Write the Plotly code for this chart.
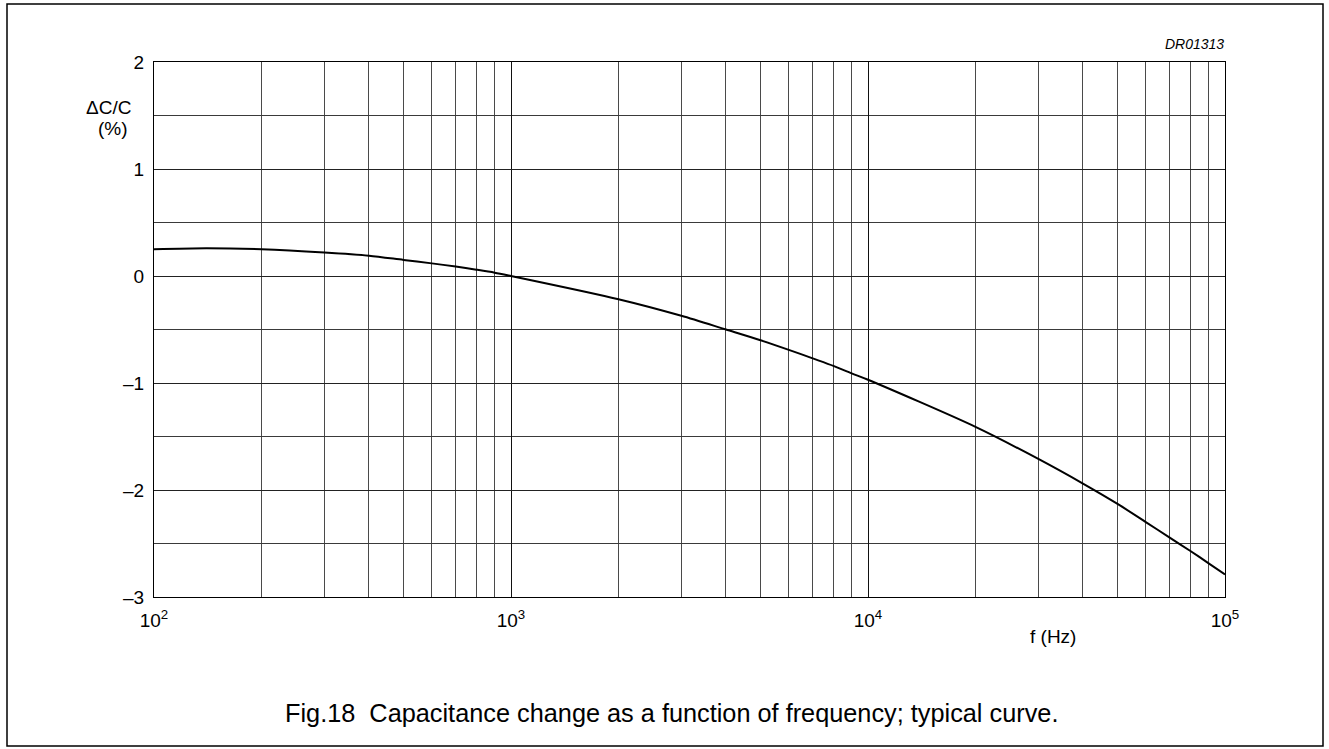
import plotly.graph_objects as go

# ---- data ----
freq_hz = [100, 140, 200, 300, 400, 500, 600, 700, 800, 900, 1000,
           2000, 3000, 4000, 5000, 6000, 7000, 8000, 9000, 10000,
           20000, 30000, 40000, 50000, 60000, 70000, 80000, 90000, 100000]
delta_c_pct = [0.25, 0.26, 0.25, 0.22, 0.19, 0.15, 0.118, 0.088, 0.059, 0.031, 0.0,
               -0.217, -0.372, -0.50, -0.60, -0.69, -0.77, -0.84, -0.91, -0.97,
               -1.41, -1.71, -1.94, -2.13, -2.30, -2.445, -2.57, -2.685, -2.79]

x_major_vals = [1e2, 1e3, 1e4, 1e5]
x_major_text = ["10<sup>2</sup>", "10<sup>3</sup>", "10<sup>4</sup>", "10<sup>5</sup>"]
x_minor_vals = [m * d for d in (100, 1000, 10000) for m in range(2, 10)]
y_major_vals = [-3, -2, -1, 0, 1, 2]
y_major_text = ["\u20133", "\u20132", "\u20131", "0", "1", "2"]

FONT = "Liberation Sans, Arial, Helvetica, sans-serif"

fig = go.Figure()
fig.add_trace(go.Scatter(
    x=freq_hz, y=delta_c_pct, mode="lines",
    line=dict(color="black", width=2, shape="spline", smoothing=0.8),
    showlegend=False, hoverinfo="skip",
))

# plot area in pixels: left 154, right 1225, top 62, bottom 597
L, R, T, B = 154, 1225, 62, 597
W, H = 1329, 749

def px(xp):
    return (xp - L) / (R - L)

def py(yp):
    return (B - yp) / (B - T)

fig.update_layout(
    width=W, height=H, autosize=False,
    margin=dict(l=L, r=W - R, t=T, b=H - B, pad=0),
    paper_bgcolor="white", plot_bgcolor="white",
    font=dict(family=FONT, size=19, color="black"),
    xaxis=dict(
        type="log", range=[2, 5],
        tickvals=x_major_vals, ticktext=x_major_text,
        showgrid=True, gridcolor="#111", gridwidth=1,
        minor=dict(tickvals=x_minor_vals, showgrid=True, gridcolor="#4a4a4a", gridwidth=1, ticks=""),
        ticks="", ticklabelstandoff=6,
        showline=True, mirror=True, linecolor="black", linewidth=1,
        zeroline=False, tickfont=dict(size=19),
    ),
    yaxis=dict(
        range=[-3, 2],
        tickvals=y_major_vals, ticktext=y_major_text,
        showgrid=True, gridcolor="#222", gridwidth=1,
        minor=dict(dtick=0.5, showgrid=True, gridcolor="#3a3a3a", gridwidth=1, ticks=""),
        ticks="", ticklabelstandoff=5,
        showline=True, mirror=True, linecolor="black", linewidth=1,
        zeroline=False, tickfont=dict(size=19),
    ),
    annotations=[
        dict(text="\u0394C/C", x=px(108), y=py(107), xref="paper", yref="paper",
             xanchor="center", yanchor="middle", showarrow=False, font=dict(size=19)),
        dict(text="(%)", x=px(113), y=py(128), xref="paper", yref="paper",
             xanchor="center", yanchor="middle", showarrow=False, font=dict(size=19)),
        dict(text="f (Hz)", x=px(1053), y=py(636), xref="paper", yref="paper",
             xanchor="center", yanchor="middle", showarrow=False, font=dict(size=19)),
        dict(text="<i>DR01313</i>", x=px(1226), y=py(44), xref="paper", yref="paper",
             xanchor="right", yanchor="middle", showarrow=False, font=dict(size=14)),
        dict(text="Fig.18  Capacitance change as a function of frequency; typical curve.",
             x=px(671), y=py(713), xref="paper", yref="paper",
             xanchor="center", yanchor="middle", showarrow=False, font=dict(size=25.3)),
    ],
    shapes=[
        dict(type="rect", xref="paper", yref="paper",
             x0=px(7), x1=px(1323), y0=py(746), y1=py(4),
             line=dict(color="black", width=1.5), fillcolor="rgba(0,0,0,0)", layer="above"),
    ],
)

fig.write_html("out.html",
               config={"displayModeBar": False},
               post_script="document.body.style.margin='0';document.body.style.overflow='hidden';")
